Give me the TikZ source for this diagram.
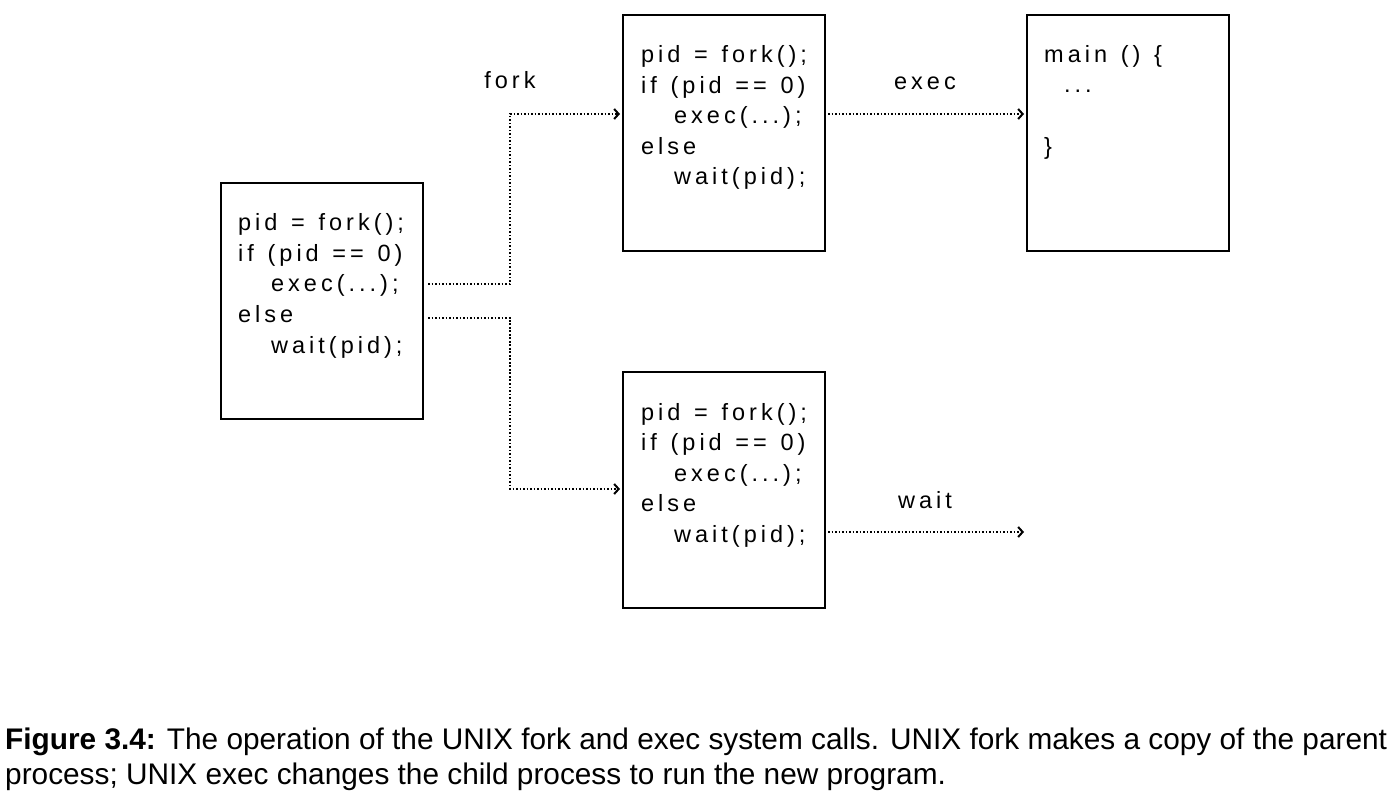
\documentclass[tikz,border=0pt]{standalone}
\usepackage{fontspec}
\setmainfont{Liberation Sans}
\newfontfamily\codefont[LetterSpace=17,WordSpace=1.3]{Liberation Sans}
\usetikzlibrary{arrows.meta}
\begin{document}
\begin{tikzpicture}[x=1pt,y=-1pt,
  box/.style={draw, line width=2.4pt, rectangle, anchor=north west, minimum width=202pt, minimum height=236pt, inner sep=0pt, outer sep=0pt},
  code/.style={anchor=base west, inner sep=0pt, font=\codefont\fontsize{23.5}{26}\selectfont},
  lbl/.style={anchor=base, inner sep=0pt, font=\codefont\fontsize{23.5}{26}\selectfont},
  conn/.style={line width=1.7pt, dash pattern=on 1.6pt off 1.9pt, -{Straight Barb[length=4.5pt,width=10pt,line width=2pt]}}]
\useasboundingbox[fill=white] (0,0) rectangle (1400,802);
% boxes
\node[box] (parent) at (221,183) {};
\node[box] (tc) at (623,15) {};
\node[box] (mainb) at (1027,15) {};
\node[box] (bc) at (623,372) {};
% parent code
\node[code] (p1) at (238,231) {pid = fork();};
\node[code] (p2) at (238,261.5) {if (pid == 0)};
\node[code] (p3) at (271,292) {exec(...);};
\node[code] (p4) at (238,322.5) {else};
\node[code] (p5) at (271,353) {wait(pid);};
% top child code
\node[code] (t1) at (641,63) {pid = fork();};
\node[code] (t2) at (641,93.5) {if (pid == 0)};
\node[code] (t3) at (674,124) {exec(...);};
\node[code] (t4) at (641,154.5) {else};
\node[code] (t5) at (674,185) {wait(pid);};
% bottom child code
\node[code] (b1) at (641,420) {pid = fork();};
\node[code] (b2) at (641,450.5) {if (pid == 0)};
\node[code] (b3) at (674,481) {exec(...);};
\node[code] (b4) at (641,511.5) {else};
\node[code] (b5) at (674,542) {wait(pid);};
% main code
\node[code] (m1) at (1044,63) {main () \{};
\node[code] (m2) at (1064,93) {...};
\node[code] (m3) at (1044,154.5) {\}};
% labels
\node[lbl] (lfork) at (510,89) {fork};
\node[lbl] (lexec) at (925,90) {exec};
\node[lbl] (lwait) at (925,508) {wait};
% connectors
\draw[conn] ([xshift=5pt,yshift=-101pt]parent.north east) -- ++(82,0) |- ([xshift=-3pt,yshift=-99pt]tc.north west);
\draw[conn] ([xshift=5pt,yshift=-135pt]parent.north east) -- ++(82,0) |- ([xshift=-3pt,yshift=-117pt]bc.north west);
\draw[conn] ([xshift=3pt,yshift=-99pt]tc.north east) -- ([xshift=-3pt,yshift=-99pt]mainb.north west);
\coordinate (wend) at (1024,532);
\draw[conn] ([xshift=3pt,yshift=-160pt]bc.north east) -- (wend);
% caption
\node[anchor=base west, inner sep=0pt, font=\fontsize{29.8}{35}\selectfont] (cap1) at (5,749) {\textbf{Figure 3.4:} The operation of the UNIX fork and exec system calls. UNIX fork makes a copy of the parent};
\node[anchor=base west, inner sep=0pt, font=\fontsize{29.8}{35}\selectfont] (cap2) at (5,784) {process; UNIX exec changes the child process to run the new program.};
\end{tikzpicture}
\end{document}
